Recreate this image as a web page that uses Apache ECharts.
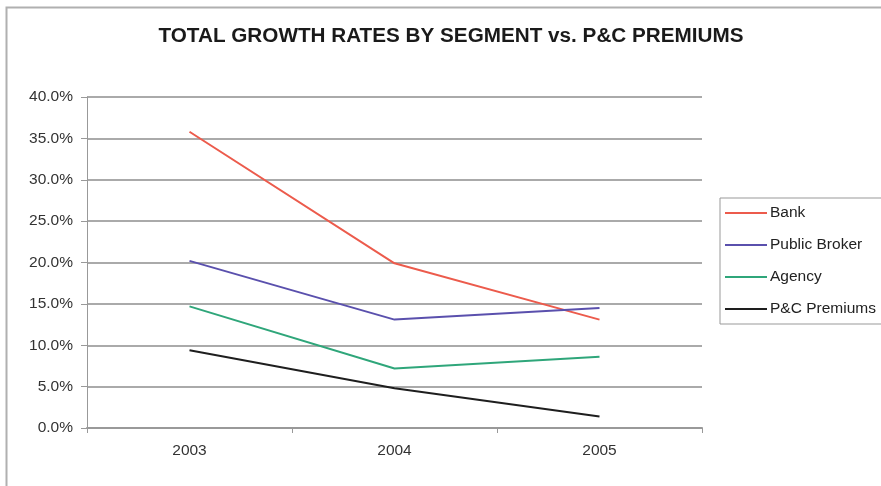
<!DOCTYPE html>
<html>
<head>
<meta charset="utf-8">
<script src="https://cdn.jsdelivr.net/npm/echarts@6/dist/echarts.min.js"></script>
<style>
html,body{margin:0;padding:0;background:#fff;}
#chart{width:881px;height:486px;}
</style>
</head>
<body>
<div id="chart"></div>
<script>
var title = 'TOTAL GROWTH RATES BY SEGMENT vs. P&C PREMIUMS';
var years = ['2003', '2004', '2005'];
var seriesNames = ['Bank', 'Public Broker', 'Agency', 'P&C Premiums'];
var bank = [35.8, 19.9, 13.1];
var publicBroker = [20.2, 13.1, 14.5];
var agency = [14.7, 7.2, 8.6];
var pcPremiums = [9.4, 4.8, 1.4];
var yTicks = [0, 5, 10, 15, 20, 25, 30, 35, 40];

var colors = ['#ec5b4c', '#5a50ad', '#2fa67a', '#1e1e1e'];
var allValues = [bank, publicBroker, agency, pcPremiums];

var chart = echarts.init(document.getElementById('chart'));
var font = 'Liberation Sans, Arial, sans-serif';
chart.setOption({
  animation: false,
  textStyle: { fontFamily: font },
  graphic: [{
    type: 'rect',
    shape: { x: 6.5, y: 7.5, width: 900, height: 500 },
    style: { fill: 'none', stroke: '#b0b0b0', lineWidth: 2 },
    z: -1
  }],
  title: {
    text: title,
    left: 446, top: 21, textAlign: 'center',
    textStyle: { fontFamily: font, fontWeight: 'bold', fontSize: 20.7, color: '#1a1a1a' }
  },
  legend: {
    orient: 'vertical',
    left: 720, top: 198,
    padding: [7, 25, 7, 5],
    itemGap: 16,
    itemWidth: 42, itemHeight: 2,
    borderColor: '#999', borderWidth: 1,
    icon: 'rect',
    textStyle: { fontFamily: font, fontSize: 15.5, color: '#222', padding: [0, 0, 0, -2] },
    data: seriesNames
  },
  grid: { left: 87, right: 179, top: 97, bottom: 58 },
  xAxis: {
    type: 'category',
    data: years,
    boundaryGap: true,
    axisLine: { lineStyle: { color: '#999', width: 2 } },
    axisTick: { show: true, alignWithLabel: false, length: 5, lineStyle: { color: '#999' } },
    axisLabel: { fontFamily: font, fontSize: 15.5, color: '#333', margin: 15 }
  },
  yAxis: {
    type: 'value',
    min: yTicks[0], max: yTicks[yTicks.length - 1], interval: 5,
    axisLine: { show: true, lineStyle: { color: '#999', width: 1 } },
    axisTick: { show: true, length: 6, lineStyle: { color: '#999' } },
    axisLabel: { fontFamily: font, fontSize: 15.5, color: '#333', margin: 14,
      formatter: function (v) { return v.toFixed(1) + '%'; } },
    splitLine: { lineStyle: { color: '#aaa', width: 2 } }
  },
  series: seriesNames.map(function (n, i) {
    return {
      name: n, type: 'line', data: allValues[i],
      showSymbol: false, symbol: 'none',
      lineStyle: { color: colors[i], width: 2 },
      itemStyle: { color: colors[i] }
    };
  })
});
</script>
</body>
</html>
